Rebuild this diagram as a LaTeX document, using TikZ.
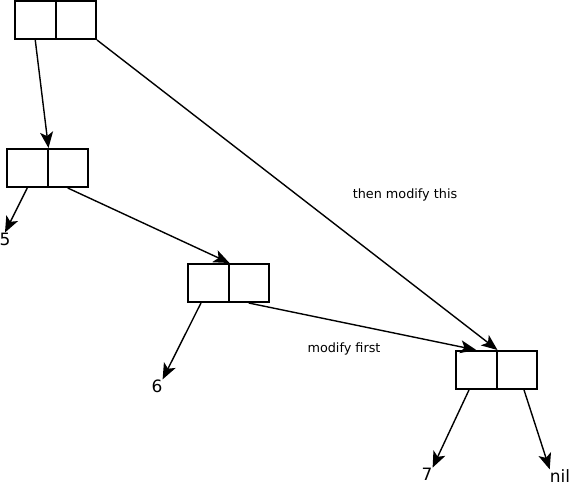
\documentclass[tikz,border=0pt]{standalone}
\usepackage{fontspec}
\setmainfont{DejaVu Sans}
\usetikzlibrary{arrows.meta}
\begin{document}
\begin{tikzpicture}[x=1pt,y=-1pt,
  cell/.style={draw,line width=2pt,minimum width=40.5pt,minimum height=38pt,inner sep=0pt},
  conn/.style={line width=1.4pt,-{Stealth[length=16pt,width=13pt,inset=4pt]}},
  val/.style={font=\fontsize{17}{17}\selectfont,inner sep=0pt},
  lab/.style={font=\fontsize{12.8}{13}\selectfont,inner sep=0pt}]
\useasboundingbox (0,0) rectangle (572,488);
\node[cell] (A1) at (35.25,20) {};
\node[cell] (A2) at (75.75,20) {};
\node[cell] (B1) at (27.25,168) {};
\node[cell] (B2) at (67.75,168) {};
\node[cell] (C1) at (208.25,283) {};
\node[cell] (C2) at (248.75,283) {};
\node[cell] (D1) at (476.25,370) {};
\node[cell] (D2) at (516.75,370) {};
\node[val] (n5) at (5,239) {5};
\node[val] (n6) at (157,386) {6};
\node[val] (n7) at (427,474) {7};
\node[val] (nil) at (560,476) {nil};
\node[lab] (t1) at (405,195) {then modify this};
\node[lab] (t2) at (344,349) {modify first};
\draw[conn] (A1.south) -- (B1.north east);
\draw[conn] (A2.south east) -- (D1.north east);
\draw[conn] (B1.south) -- (n5.north);
\draw[conn] (B2.south) -- (C1.north east);
\draw[conn] (C1.-110) -- (n6.north east);
\draw[conn] (C2.south) -- (D1.north);
\draw[conn] (D1.-110) -- (n7.north east);
\draw[conn] (D2.-70) -- (nil.north west);
\end{tikzpicture}
\end{document}
